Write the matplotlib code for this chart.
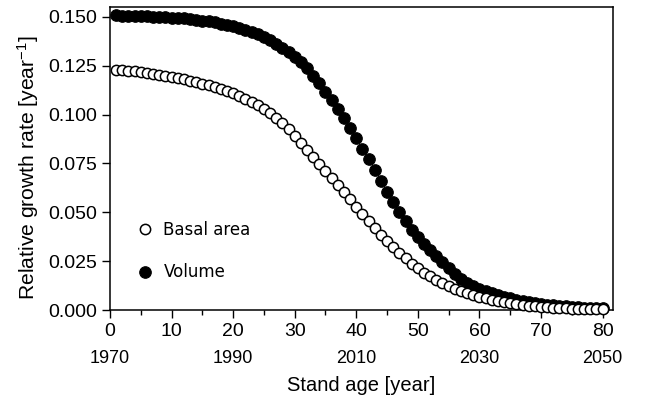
import matplotlib
matplotlib.use("Agg")
import matplotlib.pyplot as plt
from matplotlib.ticker import MultipleLocator
import matplotlib.transforms as mtransforms

plt.rcParams['font.family'] = ['Liberation Sans', 'DejaVu Sans']
plt.rcParams['mathtext.fontset'] = 'custom'
plt.rcParams['mathtext.rm'] = 'Liberation Sans'
plt.rcParams['mathtext.it'] = 'Liberation Sans'

stand_age = list(range(1, 81))

basal_area = [
    0.1230, 0.1228, 0.1225, 0.1222, 0.1219, 0.1215, 0.1210, 0.1205, 0.1199, 0.1193,
    0.1187, 0.1180, 0.1173, 0.1166, 0.1158, 0.1150, 0.1141, 0.1132, 0.1122, 0.1110,
    0.1097, 0.1082, 0.1066, 0.1048, 0.1028, 0.1006, 0.0982, 0.0955, 0.0925, 0.0892,
    0.0857, 0.0821, 0.0785, 0.0749, 0.0713, 0.0677, 0.0640, 0.0603, 0.0566, 0.0529,
    0.0492, 0.0456, 0.0420, 0.0385, 0.0352, 0.0321, 0.0292, 0.0264, 0.0238, 0.0214,
    0.0192, 0.0172, 0.0154, 0.0138, 0.0123, 0.0110, 0.0098, 0.0087, 0.0077, 0.0068,
    0.0060, 0.0053, 0.0046, 0.0040, 0.0035, 0.0030, 0.0026, 0.0022, 0.0019, 0.0016,
    0.0014, 0.0012, 0.0010, 0.0008, 0.0007, 0.0006, 0.0005, 0.0004, 0.0003, 0.0003,
]

volume = [
    0.1508, 0.1507, 0.1506, 0.1505, 0.1504, 0.1503, 0.1502, 0.1500, 0.1499, 0.1497,
    0.1495, 0.1492, 0.1489, 0.1485, 0.1481, 0.1477, 0.1472, 0.1466, 0.1459, 0.1452,
    0.1444, 0.1434, 0.1423, 0.1411, 0.1397, 0.1381, 0.1363, 0.1343, 0.1320, 0.1295,
    0.1268, 0.1238, 0.1200, 0.1160, 0.1118, 0.1075, 0.1030, 0.0982, 0.0932, 0.0880,
    0.0826, 0.0771, 0.0715, 0.0660, 0.0605, 0.0552, 0.0502, 0.0455, 0.0412, 0.0372,
    0.0338, 0.0306, 0.0275, 0.0245, 0.0215, 0.0185, 0.0160, 0.0140, 0.0122, 0.0108,
    0.0097, 0.0087, 0.0078, 0.0069, 0.0061, 0.0053, 0.0046, 0.0040, 0.0035, 0.0030,
    0.0027, 0.0024, 0.0021, 0.0019, 0.0017, 0.0015, 0.0013, 0.0012, 0.0011, 0.0010,
]

year_positions = [0, 20, 40, 60, 80]
year_labels = ["1970", "1990", "2010", "2030", "2050"]

fig = plt.figure(figsize=(6.47, 3.98), dpi=100)
ax = fig.add_axes([0.170, 0.221, 0.7775, 0.7615])

ax.plot(stand_age, volume, linestyle='none', marker='o', markersize=8.3,
        markerfacecolor='black', markeredgecolor='black', markeredgewidth=0.8,
        clip_on=False, zorder=3, label='Volume')
ax.plot(stand_age, basal_area, linestyle='none', marker='o', markersize=7.4,
        markerfacecolor='white', markeredgecolor='black', markeredgewidth=1.1,
        clip_on=False, zorder=4, label='Basal area')

ax.set_xlim(0, 81.7)
ax.set_ylim(0, 0.1551)
ax.xaxis.set_major_locator(MultipleLocator(10))
ax.xaxis.set_minor_locator(MultipleLocator(5))
ax.yaxis.set_major_locator(MultipleLocator(0.025))
ax.yaxis.set_major_formatter(matplotlib.ticker.FormatStrFormatter('%.3f'))

ax.tick_params(axis='both', which='major', direction='out', length=6, width=1.0,
               labelsize=14, pad=3)
ax.tick_params(axis='x', which='minor', direction='out', length=3.5, width=1.0)
for s in ax.spines.values():
    s.set_linewidth(1.1)

trans = mtransforms.blended_transform_factory(ax.transData, ax.transAxes)
for xp, lab in zip(year_positions, year_labels):
    ax.text(xp, -0.16, lab, transform=trans, ha='center', va='center', fontsize=13)

ax.set_xlabel('Stand age [year]', fontsize=14.5, labelpad=26)
ax.set_ylabel('Relative growth rate [year$^{-1}$]', fontsize=15.2, labelpad=5)
ax.yaxis.set_label_coords(-0.137, 0.47)

handles, labels = ax.get_legend_handles_labels()
leg = ax.legend([handles[1], handles[0]], [labels[1], labels[0]],
                loc='upper left', bbox_to_anchor=(0.04, 0.315), frameon=False,
                labelspacing=1.45, handletextpad=0.6, borderaxespad=0,
                prop={'family': 'DejaVu Sans', 'size': 12}, handlelength=1.0)

fig.savefig('out.png', dpi=100)
